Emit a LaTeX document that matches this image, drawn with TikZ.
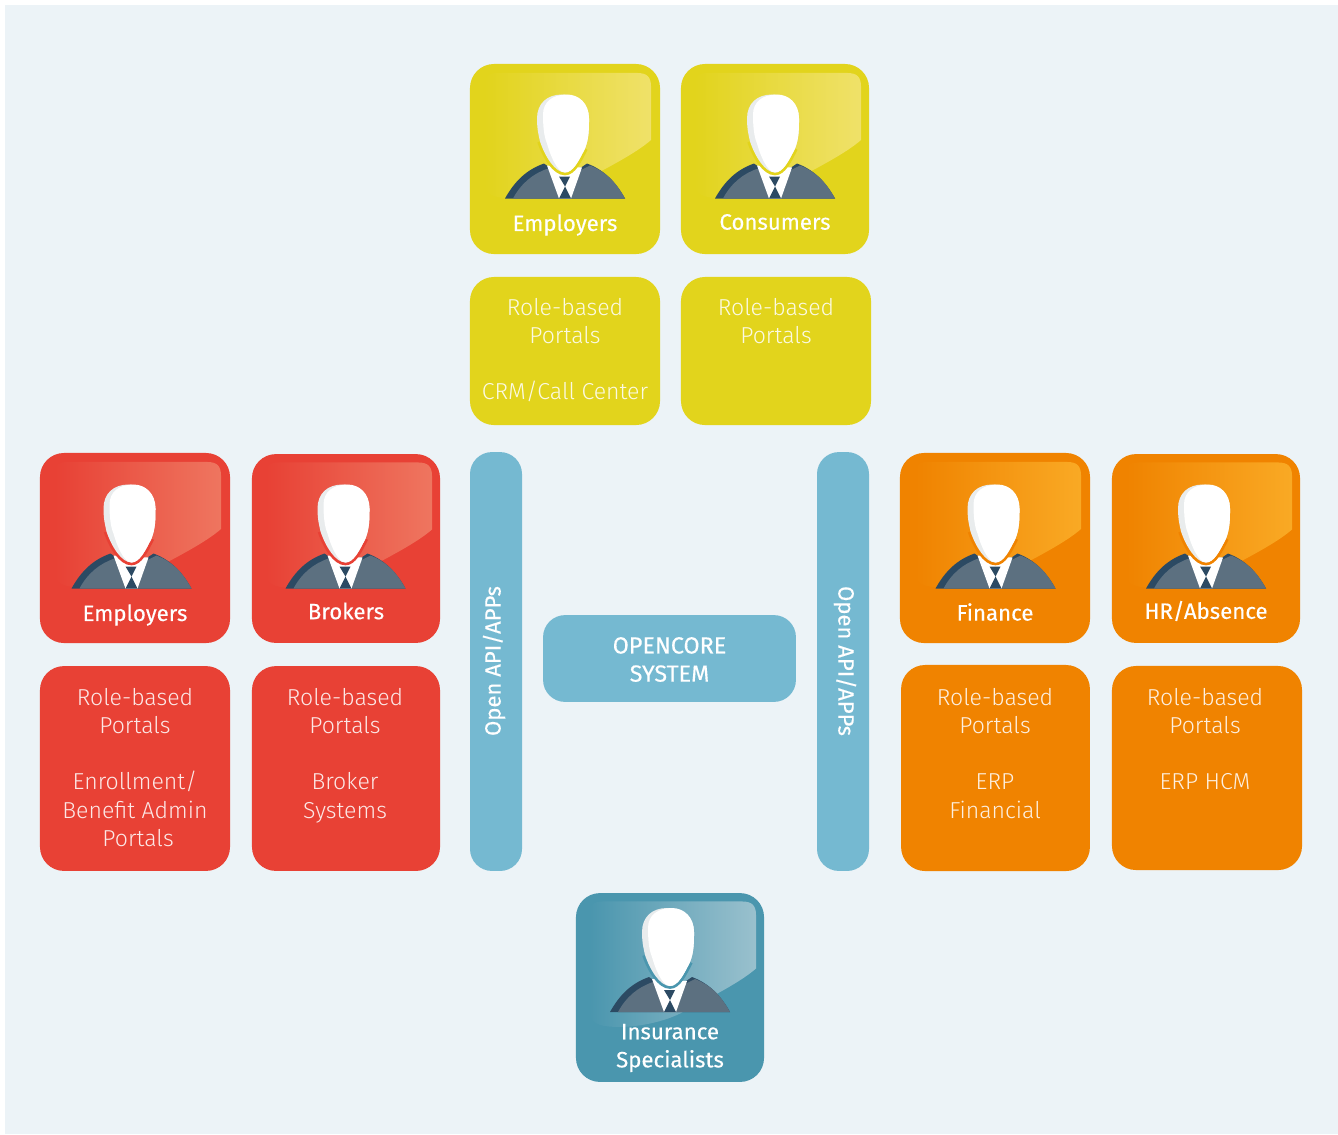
\documentclass[tikz,border=0pt]{standalone}
\usepackage{fontspec}
\setmainfont{Fira Sans}
\newfontfamily\lightfont{Fira Sans Light}
\usetikzlibrary{fadings}
\definecolor{backdrop}{HTML}{ECF3F7}
\definecolor{cardyellow}{HTML}{E2D41C}
\definecolor{cardred}{HTML}{E84135}
\definecolor{cardorange}{HTML}{F08300}
\definecolor{cardteal}{HTML}{4A96AE}
\definecolor{cardblue}{HTML}{75B9D1}
\definecolor{glossyellow}{HTML}{F0E26A}
\definecolor{glossred}{HTML}{EF7660}
\definecolor{glossorange}{HTML}{FAAA25}
\definecolor{glossteal}{HTML}{9AC1CE}
\definecolor{suitgray}{HTML}{5C7080}
\definecolor{suitdark}{HTML}{2C4A63}
\definecolor{headgray}{HTML}{E9ECED}
\tikzfading[name=glossfade, left color=transparent!100, right color=transparent!0]
\tikzset{
    card/.style={fill=#1, rounded corners=0.6cm, minimum width=4.75cm, minimum height=4.75cm},
    portal/.style={fill=#1, rounded corners=0.6cm, minimum width=4.75cm},
    pill/.style={fill=cardblue, rounded corners=0.55cm, minimum width=1.3cm, minimum height=10.47cm},
    title/.style={text=white, font=\fontsize{15.8}{20}\selectfont\addfontfeature{FakeBold=0.3}, align=center},
    body/.style={text=white, text opacity=0.88, anchor=north, font=\lightfont\fontsize{16.4}{20.1}\selectfont, align=center},
    sidetext/.style={text=white, font=\fontsize{15.7}{19}\selectfont\addfontfeature{FakeBold=0.3}, align=center},
    pics/gloss/.style={code={
        \fill[#1, path fading=glossfade] (-81,-72) .. controls (-81,-82) and (-77,-86) .. (-67,-86)
            -- (72,-86) .. controls (82,-86) and (86,-82) .. (86,-72) -- (86,-19)
            .. controls (70,-5) and (40,10) .. (10,26)
            .. controls (-10,36) and (-40,41) .. (-61,39)
            .. controls (-75,38) and (-81,32) .. (-81,22) -- cycle;
    }},
    pics/person/.style={code={
        % Shoulders
        \fill[suitdark] (-60,0) .. controls (-50,-18) and (-38,-29) .. (-21,-35) -- (0,-20) -- (22,-35)
            .. controls (38,-29) and (50,-18) .. (60,0) -- cycle;
        \fill[suitgray] (-52,0) .. controls (-44,-15) and (-32,-25) .. (-17,-30) -- (0,-10) -- (15,-28)
            -- (25,-33) .. controls (40,-27) and (50,-18) .. (60,0) -- cycle;
        % Shirt and tie
        \fill[white] (-18,-33) -- (17,-31) -- (6,0) -- (-6,0) -- cycle;
        \fill[suitdark] (-6,-22) -- (5,-22) -- (0,-12) -- (6,0) -- (-6,0) -- (0,-12) -- cycle;
        % Head
        \draw[#1, line width=4pt] (-25,-57) .. controls (-20,-42) and (-10,-26) .. (0,-26)
            .. controls (8,-26) and (14,-38) .. (20,-50);
        \fill[headgray] (-3,-104) .. controls (-18,-104) and (-28,-95) .. (-28,-80)
            .. controls (-28,-68) and (-26,-62) .. (-25,-57)
            .. controls (-20,-42) and (-10,-26) .. (0,-26)
            .. controls (8,-26) and (14,-38) .. (20,-50)
            .. controls (24,-60) and (24,-70) .. (24,-80)
            .. controls (24,-95) and (12,-104) .. (-3,-104) -- cycle;
        \fill[white] (2,-104) .. controls (-12,-104) and (-22,-97) .. (-22,-84)
            .. controls (-22,-72) and (-21,-62) .. (-18,-55)
            .. controls (-15,-44) and (-8,-26) .. (0,-26)
            .. controls (8,-26) and (14,-38) .. (20,-50)
            .. controls (24,-60) and (24,-70) .. (24,-80)
            .. controls (24,-95) and (14,-104) .. (2,-104) -- cycle;
    }}
}

\begin{document}
\begin{tikzpicture}[x=0.025cm, y=-0.025cm]

    \useasboundingbox (0,0) rectangle (1338,1134);
    \fill[backdrop] (5,5) rectangle (1338,1134);

    % Cards
    \node at (565,159) (employersTop) [card=cardyellow] {};
    \node at (775,159) (consumers) [card=cardyellow, minimum width=4.7cm] {};
    \node at (135,548) (employersLeft) [card=cardred] {};
    \node at (346,548.5) (brokers) [card=cardred, minimum width=4.7cm, minimum height=4.72cm] {};
    \node at (995,548) (finance) [card=cardorange] {};
    \node at (1206,548.5) (hr) [card=cardorange, minimum width=4.7cm, minimum height=4.72cm] {};
    \node at (670,987.5) (specialists) [card=cardteal, minimum width=4.7cm, minimum height=4.72cm] {};

    % Portals
    \node at (565,351) (portalEmployersTop) [portal=cardyellow, minimum height=3.7cm] {};
    \node at (776,351) (portalConsumers) [portal=cardyellow, minimum height=3.7cm] {};
    \node at (135,768.5) (portalEmployersLeft) [portal=cardred, minimum height=5.12cm] {};
    \node at (346,768.5) (portalBrokers) [portal=cardred, minimum width=4.7cm, minimum height=5.12cm] {};
    \node at (995.5,768) (portalFinance) [portal=cardorange, minimum width=4.72cm, minimum height=5.15cm] {};
    \node at (1207,768) (portalHr) [portal=cardorange, minimum height=5.1cm] {};

    % Open API bars and core
    \node at (496,661.5) (apiLeft) [pill] {};
    \node at (843,661.5) (apiRight) [pill] {};
    \node at (669.5,658.5) (coreBox) [fill=cardblue, rounded corners=0.55cm, minimum width=6.32cm, minimum height=2.17cm] {};
    \node at (669.5,659.5) (coreText) [title, font=\fontsize{16.6}{20}\selectfont\addfontfeature{FakeBold=0.3}] {OPENCORE\\SYSTEM};
    \node at (494,661) (apiLeftText) [sidetext, rotate=90] {Open API/APPs};
    \node at (845,661) (apiRightText) [sidetext, rotate=-90] {Open API/APPs};

    % Gloss and persons
    \pic at (employersTop) {gloss=glossyellow};
    \pic at (consumers) {gloss=glossyellow};
    \pic at (employersLeft) {gloss=glossred};
    \pic at (brokers) {gloss=glossred};
    \pic at (finance) {gloss=glossorange};
    \pic at (hr) {gloss=glossorange};
    \pic at (specialists) {gloss=glossteal};
    \pic at (565,198.5) {person=cardyellow};
    \pic at (775,198.5) {person=cardyellow};
    \pic at (131.5,588.5) {person=cardred};
    \pic at (345.5,588.5) {person=cardred};
    \pic at (995.5,588.5) {person=cardorange};
    \pic at (1206,588.5) {person=cardorange};
    \pic at (670,1012) {person=cardteal};

    % Card titles
    \node at (565,225) (titleEmployersTop) [title] {Employers};
    \node at (775,222) (titleConsumers) [title] {Consumers};
    \node at (135,615) (titleEmployersLeft) [title] {Employers};
    \node at (346,611) (titleBrokers) [title] {Brokers};
    \node at (995,612) (titleFinance) [title] {Finance};
    \node at (1206,611) (titleHr) [title] {HR/Absence};
    \node at (670,1048) (titleSpecialists) [title] {Insurance\\Specialists};

    % Portal texts
    \node at (565,293) (textEmployersTop) [body] {Role-based\\Portals\\[20.1pt]CRM/Call Center};
    \node at (776,293) (textConsumers) [body] {Role-based\\Portals};
    \node at (135,683) (textEmployersLeft) [body] {Role-based\\Portals\\[20.1pt]Enrollment/\\Benefit Admin\\\hspace*{4.3pt}Portals};
    \node at (345,683) (textBrokers) [body] {Role-based\\Portals\\[20.1pt]Broker\\Systems};
    \node at (995,683) (textFinance) [body] {Role-based\\Portals\\[20.1pt]ERP\\Financial};
    \node at (1205,683) (textHr) [body] {Role-based\\Portals\\[20.1pt]ERP HCM};

\end{tikzpicture}
\end{document}
